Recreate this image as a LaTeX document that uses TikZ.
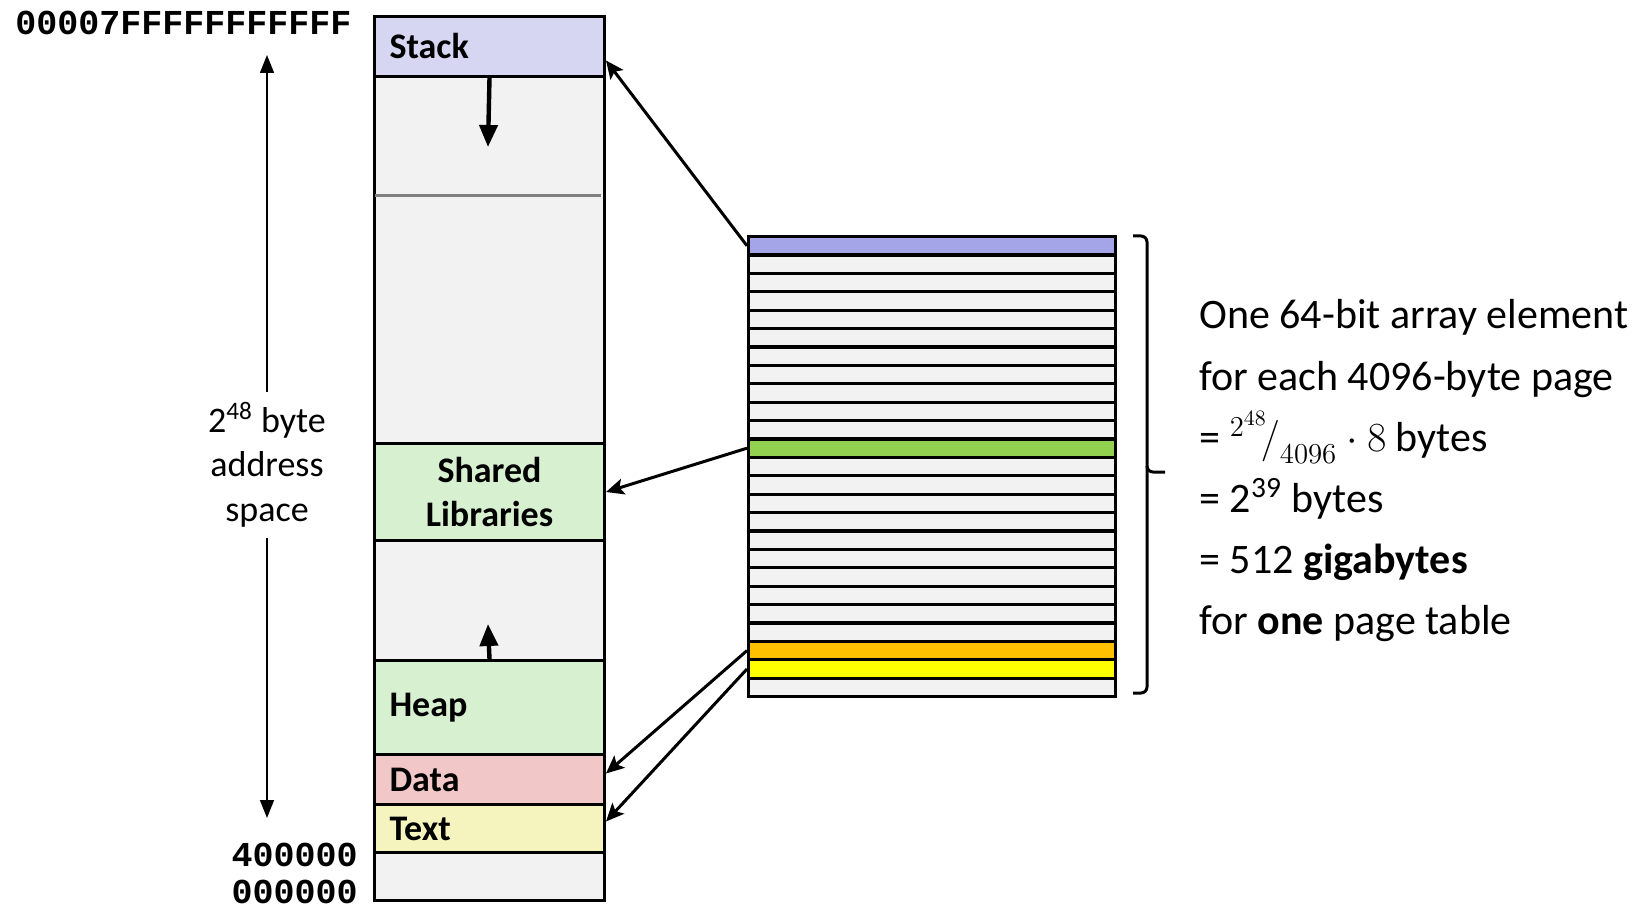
\documentclass[tikz,border=0pt]{standalone}
\usepackage{fontspec}
\setmainfont{Carlito}
\newfontfamily\addrfont{Liberation Mono}
\usepackage{tikz}
\usetikzlibrary{arrows.meta}
\usetikzlibrary{positioning}

\definecolor{stackfill}{RGB}{214,214,242}
\definecolor{libfill}{RGB}{214,240,208}
\definecolor{datafill}{RGB}{242,199,199}
\definecolor{textfill}{RGB}{245,244,190}
\definecolor{freefill}{RGB}{242,242,242}
\definecolor{ptpurple}{RGB}{164,164,232}
\definecolor{ptgreen}{RGB}{146,208,80}
\definecolor{ptorange}{RGB}{255,192,0}
\definecolor{ptyellow}{RGB}{255,255,0}

\begin{document}
\begin{tikzpicture}[x=0.5pt, y=-0.5pt,
	seg/.style={draw, line width=1.5pt, anchor=north west, minimum width=115pt,
		text width=100pt, inner xsep=7.5pt, align=left,
		font=\fontsize{18pt}{22pt}\selectfont\bfseries},
	ptrow/.style={draw, line width=1.6pt, anchor=north west, inner sep=0pt,
		minimum width=183.5pt, minimum height=9.2pt},
	addr/.style={inner sep=0pt, font=\addrfont\fontsize{17.5pt}{20pt}\selectfont\bfseries},
	growarrow/.style={line width=2.2pt, -{Triangle[length=11pt, width=9pt]}},
	sizearrow/.style={line width=0.75pt, -{Triangle[length=9pt, width=7pt]}},
	ptr/.style={line width=1.5pt, -{Stealth[length=9pt, width=8pt, inset=2pt]}}]
	\useasboundingbox (0,0) rectangle (1645,909);

	% address space
	\node[seg, fill=stackfill, minimum height=30pt] (stack) at (373,15) {Stack};
	\node[seg, fill=freefill, minimum height=183.5pt] (free1) at (373,75) {};
	\node[seg, fill=libfill, minimum height=48.5pt, align=center] (shlib) at (373,442) {Shared\\Libraries};
	\node[seg, fill=freefill, minimum height=60pt] (free2) at (373,539) {};
	\node[seg, fill=libfill, minimum height=47pt] (heap) at (373,659) {Heap};
	\node[seg, fill=datafill, minimum height=25pt] (data) at (373,753) {Data};
	\node[seg, fill=textfill, minimum height=24pt] (text) at (373,803) {Text};
	\node[seg, fill=freefill, minimum height=24pt] (free3) at (373,851) {};
	\draw[gray, line width=1.5pt] (375,196) -- (601,196);

	\coordinate (stackend) at (488,147);
	\coordinate (heapend) at (488,624);
	\draw[growarrow] (stack.south) -- (stackend);
	\draw[growarrow] (heap.north) -- (heapend);

	% addresses
	\node[addr, anchor=west] (hi) at (15,23) {00007FFFFFFFFFFF};
	\node[addr, anchor=east] (lo1) at (358,855) {400000};
	\node[addr, anchor=east] (lo2) at (358,892) {000000};

	\node[align=center, inner sep=5pt, font=\fontsize{18pt}{22.3pt}\selectfont] (size) at (267,465)
		{2\textsuperscript{48} byte\\address\\space};
	\coordinate (sizetop) at (267,55);
	\coordinate (sizebot) at (267,818);
	\draw[sizearrow] (size.north) -- (sizetop);
	\draw[sizearrow] (size.south) -- (sizebot);

	% page table
	\foreach \c [count=\i] in {ptpurple,freefill,freefill,freefill,freefill,freefill,
		freefill,freefill,freefill,freefill,freefill,ptgreen,freefill,freefill,freefill,
		freefill,freefill,freefill,freefill,freefill,freefill,freefill,ptorange,ptyellow,freefill}
		\node[ptrow, fill=\c] (row\i) at (747,{235+18.4*(\i-1)}) {};

	\draw[ptr] (row1.west) -- ([yshift=-7pt]stack.east);
	\draw[ptr] (row12.west) -- (shlib.east);
	\draw[ptr] (row23.west) -- ([yshift=3pt]data.east);
	\draw[ptr] (row24.west) -- ([yshift=3.5pt]text.east);

	\draw[line width=1.5pt, rounded corners=3pt] (1133,236) -- (1147,236) -- (1147,472) -- (1165,472);
	\draw[line width=1.5pt, rounded corners=3pt] (1147,466) -- (1147,693) -- (1133,693);

	\node[anchor=west, inner sep=0pt, align=left, font=\fontsize{21pt}{30.6pt}\selectfont] (note) at (1199,471)
		{One 64-bit array element\\for each 4096-byte page\\= $^{2^{48}}\!\big/_{4096}\cdot 8$ bytes\\= 2\textsuperscript{39} bytes\\= 512 \textbf{gigabytes}\\for \textbf{one} page table};
\end{tikzpicture}
\end{document}
